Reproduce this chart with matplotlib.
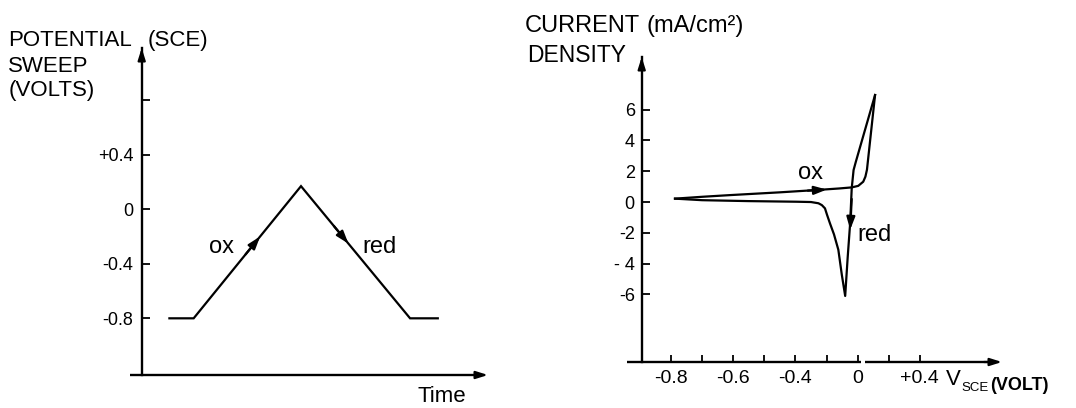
import numpy as np
import matplotlib
matplotlib.use('Agg')
import matplotlib.pyplot as plt

plt.rcParams['font.family'] = ['Liberation Sans', 'DejaVu Sans']

# --- potential sweep (left panel) ---
sweep_time = [0.8, 1.5, 4.6, 7.75, 8.55]
sweep_volts = [-0.8, -0.8, 0.17, -0.8, -0.8]
sweep_yticks = [-0.8, -0.4, 0.0, 0.4, 0.8]
sweep_yticklabels = ['-0.8', '-0.4', '0', '+0.4', '']

# --- cyclic voltammogram (right panel) ---
ox_v = [-0.787, -0.70, -0.61, -0.45, -0.332, -0.26, -0.219, -0.198, -0.182,
        -0.175, -0.170, -0.144]
ox_i = [0.22, 0.34, 0.45, 0.63, 0.78, 0.88, 0.95, 1.05, 1.32, 1.65, 2.1, 6.95]
red_v = [-0.144, -0.206, -0.213, -0.219, -0.224, -0.232, -0.240, -0.251,
         -0.262, -0.276, -0.289, -0.298, -0.305, -0.315, -0.326, -0.35, -0.396,
         -0.55, -0.70, -0.787]
red_i = [6.95, 2.6, 2.08, 0.89, -1.36, -3.6, -6.1, -4.7, -3.1, -2.1, -1.38,
         -0.85, -0.41, -0.2, -0.08, 0.0, 0.02, 0.06, 0.12, 0.22]
cv_xticks = [-0.8, -0.6, -0.4, -0.2, 0.0]
cv_xticklabels = ['-0.8', '-0.6', '-0.4', '0', '+0.4']
cv_xminor = [-0.7, -0.5, -0.3, -0.1]
cv_yticks = [-6, -4, -2, 0, 2, 4, 6]
cv_yticklabels = ['-6', '- 4', '-2', '0', '2', '4', '6']

W, H = 1076, 408
fig = plt.figure(figsize=(W / 100, H / 100), dpi=100)
fig.patch.set_facecolor('white')


def px_axes(x0, y_top, x1, y_bot):
    return fig.add_axes([x0 / W, 1 - y_bot / H, (x1 - x0) / W, (y_bot - y_top) / H])


def px_text(x, y, s, **kw):
    # x, y in pixels from the top-left corner, y is the baseline
    fig.text(x / W, 1 - y / H, s, va='baseline', **kw)


def axis_arrow(ax, tip, tail):
    ax.annotate('', xy=tip, xytext=tail, xycoords='axes fraction',
                textcoords='axes fraction', annotation_clip=False,
                arrowprops=dict(arrowstyle='-|>,head_length=0.7,head_width=0.22',
                                color='k', lw=1.6, shrinkA=0, shrinkB=0))


def line_arrow(ax, tip, tail):
    ax.annotate('', xy=tip, xytext=tail,
                arrowprops=dict(arrowstyle='-|>,head_length=0.75,head_width=0.25',
                                color='k', lw=1.6, shrinkA=0, shrinkB=0))


lw = 1.7

# left: potential sweep against time
ax1 = px_axes(141.7, 48, 488, 375)
ax1.set_xlim(0, 10)
ax1.set_ylim(-1.216, 1.184)
for s in ['top', 'right', 'bottom']:
    ax1.spines[s].set_visible(False)
ax1.spines['left'].set_linewidth(lw)
ax1.set_xticks([])
ax1.set_yticks(sweep_yticks)
ax1.set_yticklabels(sweep_yticklabels, fontsize=13)
ax1.tick_params(axis='y', direction='in', length=6, width=1.3, pad=6)
ax1.plot([-0.34, 9.8], [-1.216, -1.216], color='k', lw=lw, clip_on=False,
         solid_capstyle='butt')
axis_arrow(ax1, (1.0, 0.0), (0.96, 0.0))
axis_arrow(ax1, (0.0, 1.0), (0.0, 0.96))

ax1.plot(sweep_time, sweep_volts, color='k', lw=1.6, solid_joinstyle='miter')
for t_tip, t_tail in [(3.42, 3.0), (5.97, 5.55)]:
    line_arrow(ax1, (t_tip, np.interp(t_tip, sweep_time, sweep_volts)),
               (t_tail, np.interp(t_tail, sweep_time, sweep_volts)))
ax1.text(2.31, -0.28, 'ox', fontsize=17, ha='center', va='center')
ax1.text(6.88, -0.28, 'red', fontsize=17, ha='center', va='center')

px_text(8, 46, 'POTENTIAL', fontsize=16)
px_text(148, 46, '(SCE)', fontsize=16)
px_text(8, 72, 'SWEEP', fontsize=16)
px_text(9, 96, '(VOLTS)', fontsize=16)
px_text(418, 402, 'Time', fontsize=16)

# right: current density against potential
ax2 = px_axes(641.7, 57, 1002, 362)
ax2.set_xlim(-0.894, 0.264)
ax2.set_ylim(-10.39, 9.42)
for s in ['top', 'right', 'bottom']:
    ax2.spines[s].set_visible(False)
ax2.spines['left'].set_linewidth(lw)
ax2.set_xticks(cv_xticks)
ax2.set_xticklabels(cv_xticklabels, fontsize=14)
ax2.set_xticks(cv_xminor, minor=True)
ax2.set_yticks(cv_yticks)
ax2.set_yticklabels(cv_yticklabels, fontsize=13)
ax2.tick_params(axis='x', which='both', direction='in', length=5, width=1.3, pad=6)
ax2.tick_params(axis='y', direction='in', length=6, width=1.3, pad=5)
ybot = -10.39
ax2.plot([-0.941, -0.19], [ybot, ybot], color='k', lw=lw, clip_on=False,
         solid_capstyle='butt')
ax2.plot([-0.176, 0.24], [ybot, ybot], color='k', lw=lw, clip_on=False,
         solid_capstyle='butt')
axis_arrow(ax2, (1.0, 0.0), (0.95, 0.0))
axis_arrow(ax2, (0.0, 1.0), (0.0, 0.96))

ax2.plot(ox_v, ox_i, color='k', lw=1.6, solid_joinstyle='round')
ax2.plot(red_v, red_i, color='k', lw=1.6, solid_joinstyle='round')
line_arrow(ax2, (-0.299, 0.81), (-0.36, 0.74))
line_arrow(ax2, (-0.224, -1.8), (-0.219, 0.2))
ax2.text(-0.353, 1.9, 'ox', fontsize=17, ha='center', va='center')
ax2.text(-0.202, -2.15, 'red', fontsize=17, ha='left', va='center')

px_text(525, 32, 'CURRENT', fontsize=17)
px_text(647, 32, '(mA/cm²)', fontsize=17)
px_text(527, 62, 'DENSITY', fontsize=16.5)
px_text(946, 385, 'V', fontsize=16)
px_text(961, 391, 'SCE', fontsize=9.5)
px_text(990, 390, '(VOLT)', fontsize=13, fontweight='bold')

fig.savefig('out.png', dpi=100, facecolor='white')
